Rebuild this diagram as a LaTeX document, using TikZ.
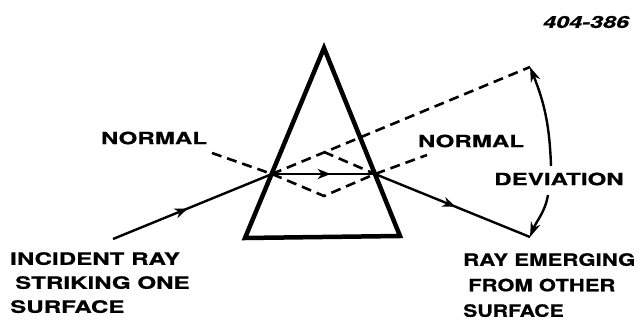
\documentclass[tikz,border=0pt]{standalone}
\usepackage{fontspec}
\setmainfont{TeX Gyre Heros}[FakeStretch=1.42, BoldFeatures={FakeBold=0.6}, BoldItalicFeatures={FakeBold=0.6}]
\usetikzlibrary{arrows.meta,decorations.markings}
\tikzset{
  prism/.style={line width=4.5pt, line join=miter},
  ray/.style={line width=2.4pt},
  dashline/.style={line width=2.6pt, dash pattern=on 10pt off 6pt},
  midarrow/.style={postaction={decorate},decoration={markings,
     mark=at position #1 with {\arrow{Stealth[length=13pt,width=10pt,inset=4pt]}}}},
  devarrow/.style={line width=2.4pt,-{Stealth[length=15pt,width=10pt,inset=5pt]}},
  lbl/.style={font=\bfseries\fontsize{17}{21.5}\selectfont, inner sep=0pt},
}
\begin{document}
\begin{tikzpicture}[x=1pt,y=-1pt]
\useasboundingbox (0,0) rectangle (642,323);
\coordinate (A) at (324,48);
\coordinate (BL) at (245,238);
\coordinate (BR) at (400,236);
\coordinate (E) at (272,174);
\coordinate (X) at (375,174);
\coordinate (S) at (113,239);
\coordinate (T) at (530,237);
\coordinate (U) at (530,67);
\coordinate (V) at (324,152);
\coordinate (W) at (324,196);
\coordinate (N1) at (212,153);
\coordinate (N2) at (427,155);
\coordinate (devtop) at (551,166);
\coordinate (devbot) at (548,195);
% dashed construction lines
\draw[dashline] (E) -- (U);
\draw[dashline] (V) -- (X);
\draw[dashline] (N1) -- (E) -- (W) -- (X) -- (N2);
% prism
\draw[prism] (A) -- (BL) -- (BR) -- cycle;
% rays
\draw[ray, midarrow=0.47] (S) -- (E);
\draw[ray, midarrow=0.57] (E) -- (X);
\draw[ray, midarrow=0.52] (X) -- (T);
% deviation arc
\draw[devarrow] (devtop) to[out=92,in=-68] (U);
\draw[devarrow] (devbot) to[out=-100,in=68] (T);
% labels
\node[font=\bfseries\itshape\fontsize{16.5}{18}\selectfont, inner sep=0pt] (num) at (586,22) {404-386};
\node[lbl] (nl) at (154,138) {NORMAL};
\node[lbl] (nr) at (471,141) {NORMAL};
\node[lbl] (dev) at (559,179) {DEVIATION};
\node[lbl, anchor=north west, align=left, font=\bfseries\fontsize{17}{24}\selectfont] (inc) at (10,252) {INCIDENT RAY\\\hspace{5pt}STRIKING ONE\\SURFACE};
\node[lbl, anchor=north west, align=left, font=\bfseries\fontsize{17}{25.5}\selectfont] (emg) at (463,253) {\scalebox{0.92}[1]{RAY EMERGING}\\\hspace{5pt}\scalebox{0.91}[1]{FROM OTHER}\\\scalebox{0.88}[1]{SURFACE}};
\end{tikzpicture}
\end{document}
